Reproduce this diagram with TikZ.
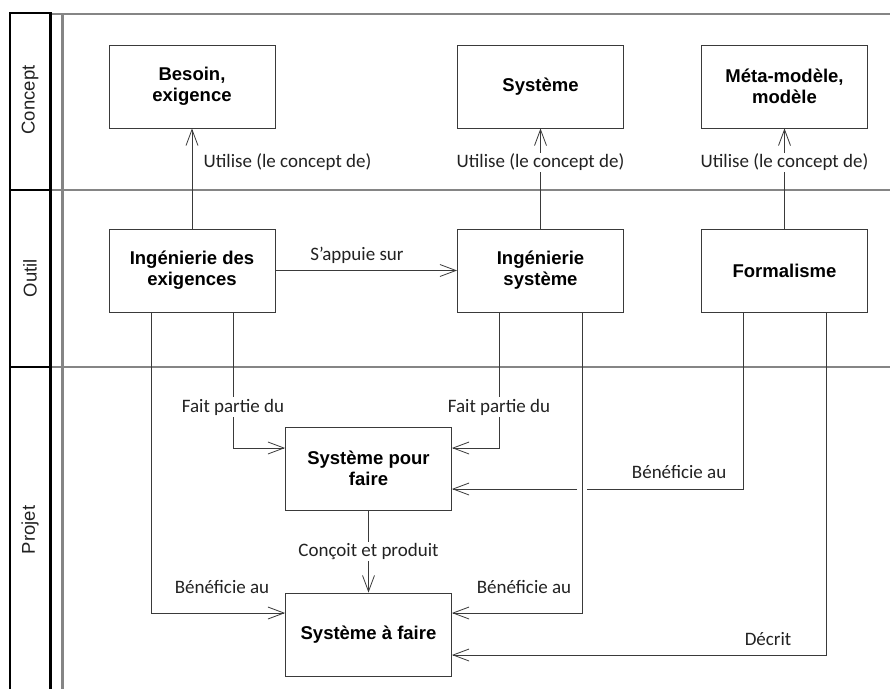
\documentclass[tikz,border=0pt]{standalone}
\usepackage{fontspec}
\setmainfont{Liberation Sans}
\newfontfamily\lblfont{Carlito}
\usetikzlibrary{arrows.meta,calc}
\definecolor{lnc}{HTML}{3A3A3A}
\definecolor{lanegray}{HTML}{858585}
\definecolor{txt}{HTML}{222222}
\tikzset{
  boxnode/.style={draw=lnc, line width=0.9pt, minimum width=166pt, minimum height=83pt,
    align=center, inner sep=2pt, text=black, font=\fontsize{18.5}{21}\selectfont\bfseries},
  conn/.style={draw=lnc, line width=0.8pt},
  arr/.style={conn, -{Straight Barb[length=16pt,width=12pt,line width=0.8pt]}},
  lbl/.style={font=\lblfont\fontsize{19}{20}\selectfont, text=txt, inner sep=1.5pt},
  lblw/.style={lbl, fill=white},
  lanehead/.style={font=\fontsize{18.5}{20}\selectfont, text=txt, rotate=90},
  blackline/.style={draw=black, line width=2.4pt},
  grayline/.style={draw=lanegray, line width=2.2pt}
}
\begin{document}
\begin{tikzpicture}[x=1pt,y=-1pt]
\useasboundingbox (0,0) rectangle (890,688);
\fill[white] (0,0) rectangle (890,688);

% swimlane frame
\draw[grayline] (52,14) -- (890,14);
\draw[grayline] (52,190) -- (890,190);
\draw[grayline] (52,367) -- (890,367);
\draw[grayline] (62.5,14) -- (62.5,690);
\draw[blackline] (10,690) -- (10,13) -- (50.5,13) -- (50.5,690);
\draw[blackline] (10,190) -- (50.5,190);
\draw[blackline] (10,367) -- (50.5,367);

\node[lanehead] (hconcept) at (30,100) {Concept};
\node[lanehead] (houtil) at (30,278) {Outil};
\node[lanehead] (hprojet) at (30,530) {Projet};

% boxes
\node[boxnode] (besoin) at (192,86.5) {Besoin,\\exigence};
\node[boxnode] (systeme) at (540.5,86.5) {Système};
\node[boxnode] (meta) at (784.5,86.5) {Méta-modèle,\\modèle};
\node[boxnode] (ingex) at (192,270.5) {Ingénierie des\\exigences};
\node[boxnode] (ingsys) at (540.5,270.5) {Ingénierie\\système};
\node[boxnode] (formal) at (784.5,270.5) {Formalisme};
\node[boxnode] (spf) at (368.5,468.5) {Système pour\\faire};
\node[boxnode] (saf) at (368.5,634.5) {Système à faire};

% concept links
\draw[arr] (ingex.north) -- (besoin.south);
\node[lbl, anchor=west] (l1) at (202,162) {Utilise (le concept de)};
\draw[arr] (ingsys.north) -- node[lblw, pos=0.66] (l2) {Utilise (le concept de)} (systeme.south);
\draw[arr] (formal.north) -- node[lblw, pos=0.66] (l3) {Utilise (le concept de)} (meta.south);

% s'appuie sur
\draw[arr] (ingex.east) -- (ingsys.west);
\node[lbl] (l4) at (357,255) {S’appuie sur};

% fait partie du
\draw[arr] ([xshift=41pt]ingex.south) |- ([yshift=20.5pt]spf.west);
\node[lblw] (l5) at (233,407) {Fait partie du};
\draw[arr] ([xshift=-41.5pt]ingsys.south) |- ([yshift=20.5pt]spf.east);
\node[lblw] (l6) at (499,407) {Fait partie du};

% beneficie au (left)
\draw[arr] ([xshift=-41pt]ingex.south) |- ([yshift=21.5pt]saf.west);
\node[lbl] (l7) at (222,587) {Bénéficie au};
% beneficie au (middle)
\draw[arr] ([xshift=41.5pt]ingsys.south) |- ([yshift=21.5pt]saf.east);
\node[lbl] (l8) at (524,587) {Bénéficie au};

% formalisme -> systeme pour faire (with line hop gap)
\coordinate (gapR) at (587,489);
\coordinate (gapL) at (577,489);
\draw[conn] ([xshift=-41.5pt]formal.south) |- (gapR);
\draw[arr] (gapL) -- ([yshift=-20.5pt]spf.east);
\node[lbl, anchor=east] (l9) at (728,472) {Bénéficie au};

% decrit
\draw[arr] ([xshift=41.5pt]formal.south) |- ([yshift=-20.5pt]saf.east);
\node[lbl] (l10) at (768,639) {Décrit};

% concoit et produit
\draw[arr] (spf.south) -- node[lblw, pos=0.5] (l11) {Conçoit et produit} (saf.north);
\end{tikzpicture}
\end{document}
